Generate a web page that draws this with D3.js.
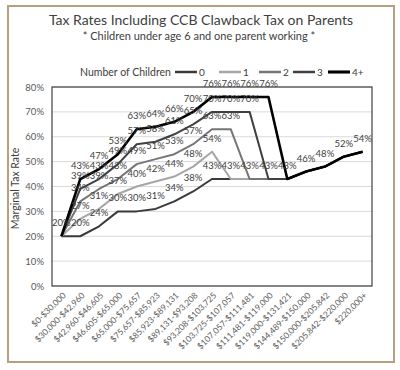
<!DOCTYPE html>
<html>
<head>
<meta charset="utf-8">
<script src="https://cdn.jsdelivr.net/npm/d3@7"></script>
<style>
  body { margin: 0; background: #fff; }
  svg text { font-family: Lato, "Open Sans", sans-serif; }
  .grid line { stroke: #d9d9d9; }
  .series path { fill: none; stroke-linejoin: round; }
</style>
</head>
<body>
<div id="chart"></div>
<script>
const incomeBands = [
  "$0-$30,000", "$30,000-$42,960", "$42,960-$46,605", "$46,605-$65,000",
  "$65,000-$75,657", "$75,657-$85,923", "$85,923-$89,131", "$89,131-$93,208",
  "$93,208-$103,725", "$103,725-$107,057", "$107,057-$111,481", "$111,481-$119,000",
  "$119,000-$131,421", "$144,489-$150,000", "$150,000-$205,842", "$205,842-$220,000",
  "$220,000+"
];

// marginal rates in %, one list per number of children
const kids0 = [20, 20, 24, 30, 30, 31, 34, 38, 43, 43, 43, 43, 43, 46, 48, 52, 54];
const kids1 = [20, 27, 31, 37, 40, 42, 44, 48, 54, 43, 43, 43, 43, 46, 48, 52, 54];
const kids2 = [20, 34, 39, 43, 49, 51, 53, 57, 63, 63, 43, 43, 43, 46, 48, 52, 54];
const kids3 = [20, 39, 43, 49, 57, 58, 61, 65, 70, 70, 70, 43, 43, 46, 48, 52, 54];
const kids4 = [20, 43, 47, 53, 63, 64, 66, 70, 76, 76, 76, 76, 43, 46, 48, 52, 54];

const seriesNames = ["0", "1", "2", "3", "4+"];
const yTicks = [0, 10, 20, 30, 40, 50, 60, 70, 80];

const series = [
  {name: seriesNames[0], values: kids0, color: "#3a3a3a", width: 2},
  {name: seriesNames[1], values: kids1, color: "#a6a6a6", width: 2},
  {name: seriesNames[2], values: kids2, color: "#767676", width: 2},
  {name: seriesNames[3], values: kids3, color: "#404040", width: 2},
  {name: seriesNames[4], values: kids4, color: "#000000", width: 2.6}
];

const width = 400, height = 370;
const plot = {left: 52, right: 372, top: 87, bottom: 286};

const svg = d3.select("#chart").append("svg")
  .attr("width", width)
  .attr("height", height);

// outer frame
svg.append("rect")
  .attr("x", 8).attr("y", 6)
  .attr("width", 386).attr("height", 356)
  .attr("fill", "#fff")
  .attr("stroke", "#b89f80")
  .attr("stroke-width", 2);

svg.append("text")
  .attr("x", 201).attr("y", 25)
  .attr("text-anchor", "middle")
  .attr("font-size", 14)
  .attr("fill", "#404040")
  .text("Tax Rates Including CCB Clawback Tax on Parents");

svg.append("text")
  .attr("x", 199).attr("y", 40)
  .attr("text-anchor", "middle")
  .attr("font-size", 11)
  .attr("fill", "#404040")
  .text("* Children under age 6 and one parent working *");

const x = d3.scaleBand()
  .domain(incomeBands)
  .range([plot.left, plot.right]);
const cx = d => x(d) + x.bandwidth() / 2;

const y = d3.scaleLinear()
  .domain([0, 80])
  .range([plot.bottom, plot.top]);

// gridlines
svg.append("g")
  .attr("class", "grid")
  .selectAll("line")
  .data(yTicks)
  .join("line")
    .attr("x1", plot.left).attr("x2", plot.right)
    .attr("y1", d => y(d)).attr("y2", d => y(d));

const yAxis = svg.append("g")
  .attr("transform", `translate(${plot.left},0)`)
  .call(d3.axisLeft(y).tickValues(yTicks).tickSize(0).tickPadding(8).tickFormat(d => d + "%"));
yAxis.select(".domain").remove();
yAxis.selectAll("text")
  .attr("font-size", 9.5)
  .attr("fill", "#595959");

const xAxis = svg.append("g")
  .attr("transform", `translate(0,${plot.bottom})`)
  .call(d3.axisBottom(x).tickSize(0).tickPadding(0));
xAxis.select(".domain").remove();
xAxis.selectAll("text")
  .attr("font-size", 8.5)
  .attr("fill", "#595959")
  .attr("text-anchor", "end")
  .attr("dy", 0)
  .attr("y", 0)
  .attr("transform", "translate(5,10) rotate(-45)");

svg.append("text")
  .attr("transform", `translate(19,${(plot.top + plot.bottom) / 2 + 2}) rotate(-90)`)
  .attr("text-anchor", "middle")
  .attr("font-size", 10.5)
  .attr("fill", "#404040")
  .text("Marginal Tax Rate");

// plot frame
svg.append("rect")
  .attr("x", plot.left).attr("y", plot.top)
  .attr("width", plot.right - plot.left).attr("height", plot.bottom - plot.top)
  .attr("fill", "none")
  .attr("stroke", "#404040")
  .attr("stroke-width", 1.2);

const line = d3.line()
  .x((d, i) => cx(incomeBands[i]))
  .y(d => y(d));

svg.append("g")
  .attr("class", "series")
  .selectAll("path")
  .data(series)
  .join("path")
    .attr("stroke", d => d.color)
    .attr("stroke-width", d => d.width)
    .attr("d", d => line(d.values));

// data labels, one per point position
const labels = new Map();
series.forEach(s => s.values.forEach((v, i) => {
  const key = i + ":" + v;
  if (!labels.has(key)) labels.set(key, {i, v});
}));

svg.append("g")
  .selectAll("text")
  .data([...labels.values()])
  .join("text")
    .attr("x", d => cx(incomeBands[d.i]))
    .attr("y", d => y(d.v) - 10)
    .attr("text-anchor", "middle")
    .attr("font-size", 9.5)
    .attr("fill", "#404040")
    .text(d => d.v + "%");

// legend
const legend = svg.append("g").attr("transform", "translate(0,72)");
legend.append("text")
  .attr("x", 80).attr("y", 4)
  .attr("font-size", 10.5)
  .attr("fill", "#404040")
  .text("Number of Children");

const legendX = [175, 219, 259, 293, 328];
const item = legend.selectAll("g.item")
  .data(series)
  .join("g")
    .attr("class", "item")
    .attr("transform", (d, i) => `translate(${legendX[i]},0)`);
item.append("line")
  .attr("x1", 0).attr("x2", 22)
  .attr("stroke", d => d.color)
  .attr("stroke-width", d => d.width + 0.5);
item.append("text")
  .attr("x", 24).attr("y", 4)
  .attr("font-size", 10)
  .attr("fill", "#404040")
  .text(d => d.name);
</script>
</body>
</html>
